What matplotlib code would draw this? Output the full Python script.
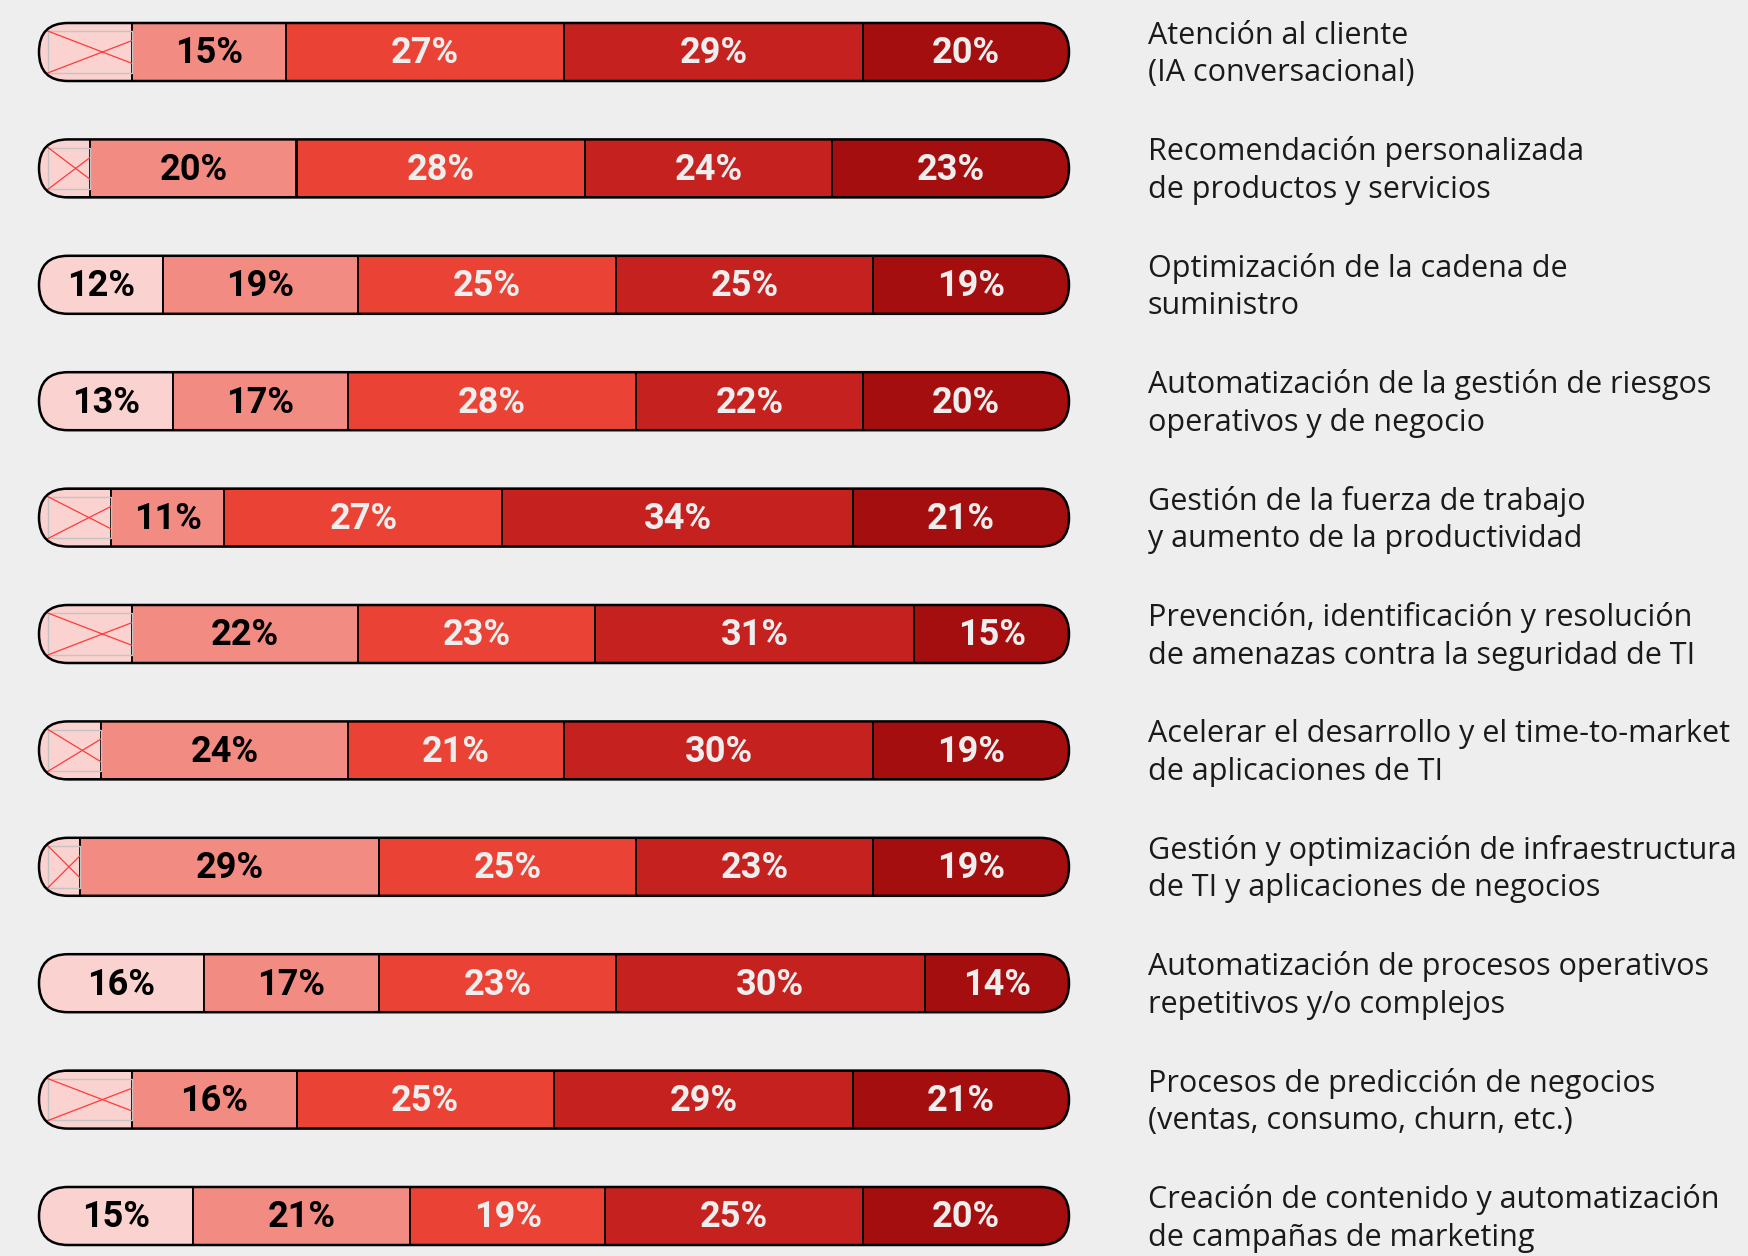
import matplotlib
matplotlib.use("Agg")
import matplotlib.pyplot as plt
import matplotlib.transforms as mtransforms
from matplotlib.patches import FancyBboxPatch, Rectangle

plt.rcParams['font.family'] = ['Roboto', 'DejaVu Sans']

# casos de uso (de arriba hacia abajo)
labels = [
    "Atención al cliente\n(IA conversacional)",
    "Recomendación personalizada\nde productos y servicios",
    "Optimización de la cadena de\nsuministro",
    "Automatización de la gestión de riesgos\noperativos y de negocio",
    "Gestión de la fuerza de trabajo\ny aumento de la productividad",
    "Prevención, identificación y resolución\nde amenazas contra la seguridad de TI",
    "Acelerar el desarrollo y el time-to-market\nde aplicaciones de TI",
    "Gestión y optimización de infraestructura\nde TI y aplicaciones de negocios",
    "Automatización de procesos operativos\nrepetitivos y/o complejos",
    "Procesos de predicción de negocios\n(ventas, consumo, churn, etc.)",
    "Creación de contenido y automatización\nde campañas de marketing",
]

# porcentajes por nivel (el primero sin etiqueta en algunas filas)
v1 = [9, 5, 12, 13, 7, 9, 6, 4, 16, 9, 15]
v2 = [15, 20, 19, 17, 11, 22, 24, 29, 17, 16, 21]
v3 = [27, 28, 25, 28, 27, 23, 21, 25, 23, 25, 19]
v4 = [29, 24, 25, 22, 34, 31, 30, 23, 30, 29, 25]
v5 = [20, 23, 19, 20, 21, 15, 19, 19, 14, 21, 20]
v1_shown = [False, False, True, True, False, False, False, False, True, False, True]

colors = ['#fad2cf', '#f28b82', '#ea4335', '#c5221f', '#a50e0e']
text_colors = ['black', 'black', '#eeeeee', '#eeeeee', '#eeeeee']
bg = '#eeeeee'

W, H = 1749, 1256
fig = plt.figure(figsize=(W / 100, H / 100), dpi=100)
fig.patch.set_facecolor(bg)
ax = fig.add_axes([0, 0, 1, 1])
ax.axis('off')

# pixel layout: bar from x=39 to x=1069, first row at y=52, rows 116.4 px apart
px_per_x = (1069 - 39) / 100
px_per_y = 116.4
ax.set_xlim(-39 / px_per_x, (W - 39) / px_per_x)
ax.set_ylim((H - 52) / px_per_y, -52 / px_per_y)

p0 = ax.transData.transform((0, 0))
p1 = ax.transData.transform((1, 1))
sx = abs(p1[0] - p0[0])
sy = abs(p1[1] - p0[1])
aspect = sx / sy

bar_h = 58 / sy
radius = (bar_h / 2) / aspect

series = [v1, v2, v3, v4, v5]
text_tf = mtransforms.blended_transform_factory(fig.transFigure, ax.transData)

for i in range(len(labels)):
    vals = [s[i] for s in series]
    total = sum(vals)
    shape = FancyBboxPatch((0, i - bar_h / 2), total, bar_h,
                           boxstyle=f"round,pad=0,rounding_size={radius}",
                           mutation_aspect=aspect, facecolor='none',
                           edgecolor='black', linewidth=1.8, zorder=5)
    ax.add_patch(shape)

    left = 0
    rects = []
    for k, v in enumerate(vals):
        b = ax.barh(i, v, left=left, height=bar_h, color=colors[k],
                    edgecolor='black', linewidth=1.3, zorder=2)
        for r in b:
            r.set_clip_path(shape)
            rects.append(r)
        if k > 0 or v1_shown[i]:
            ax.text(left + v / 2, i + 0.012, f"{v}%", ha='center', va='center',
                    fontsize=26, fontweight='bold', color=text_colors[k], zorder=6)
        left += v

    if not v1_shown[i]:
        # marcador de imagen vacía en el primer segmento
        w = vals[0]
        xl = 9 / sx
        inset = bar_h * 0.14
        yt, yb = i - bar_h / 2 + inset, i + bar_h / 2 - inset
        box = Rectangle((xl, yt), w - xl, yb - yt, facecolor='none',
                        edgecolor='#c4c4c4', linewidth=1.0, zorder=3)
        ax.add_patch(box)
        box.set_clip_path(shape)
        span = (w - xl) * 1.3
        for ya, yb2 in [(yt, yb), (yb, yt)]:
            ln, = ax.plot([xl, xl + span], [ya, yb2], color='#ff3b3b',
                          linewidth=0.9, zorder=3)
            ln.set_clip_path(rects[0])

    ax.text(1148 / W, i + 0.02, labels[i], transform=text_tf, ha='left', va='center',
            fontsize=22, family=['Open Sans', 'DejaVu Sans'], color='#1a1a1a',
            linespacing=1.33)

fig.savefig('out.png', dpi=100, facecolor=bg)
